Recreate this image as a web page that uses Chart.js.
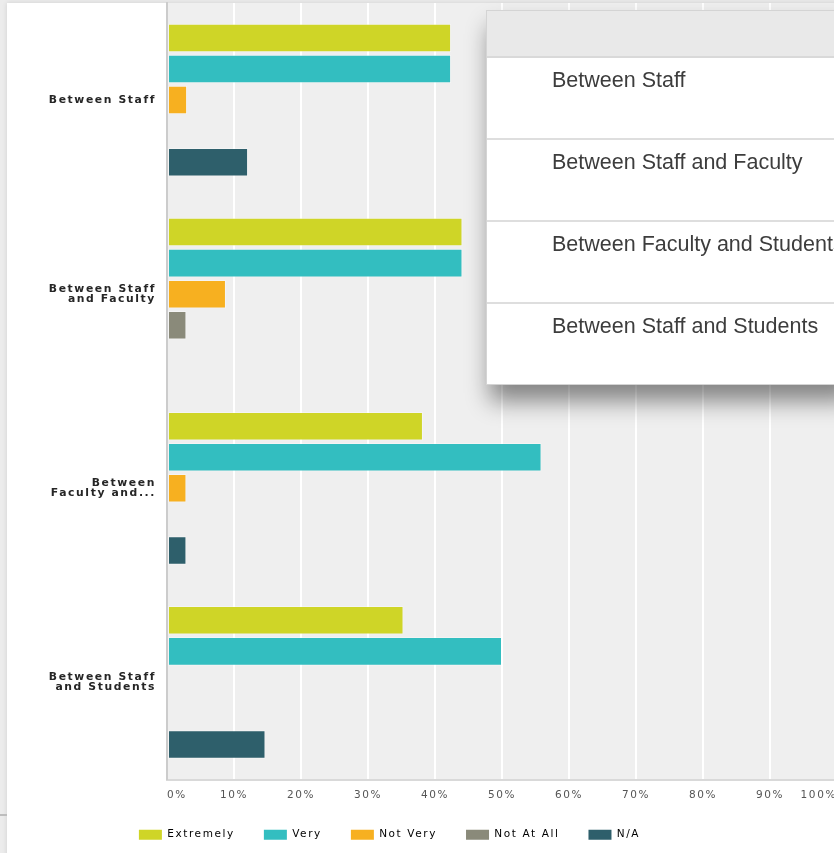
<!DOCTYPE html>
<html>
<head>
<meta charset="utf-8">
<title>Communication ratings</title>
<script src="https://cdn.jsdelivr.net/npm/chart.js@4.4.1/dist/chart.umd.min.js"></script>
<style>
  html, body { margin: 0; padding: 0; width: 834px; height: 853px; overflow: hidden; background: #ececec; }
  .panel { position: absolute; left: 7px; top: 3px; width: 840px; height: 860px; background: #fff; box-shadow: 0 0 5px rgba(0,0,0,0.12); }
  .edge-line { position: absolute; left: 0; top: 814px; width: 7px; height: 2px; background: #bdbdbd; }
  .chart-box { position: absolute; left: -58px; top: 0; width: 895px; height: 853px; }
  .picker { position: absolute; left: 486px; top: 10px; width: 360px; background: #fff; border: 1px solid #d4d4d4;
            box-shadow: 4px 16px 22px rgba(0,0,0,0.45); font-family: 'Liberation Sans', Arial, sans-serif; }
  .picker .head { height: 45px; background: #e9e9e9; border-bottom: 2px solid #d9d9d9; }
  .picker .row { height: 82px; box-sizing: border-box; border-bottom: 2px solid #dedede; padding: 10px 0 0 65px;
                 font-size: 21.5px; color: #3d3d3d; white-space: nowrap; }
  .picker .row:last-child { border-bottom: none; height: 80px; }
</style>
</head>
<body>
<div class="panel"></div>
<div class="edge-line"></div>
<div class="chart-box"><canvas id="ratingChart"></canvas></div>
<div class="picker" id="picker"><div class="head"></div></div>

<script>
// categories, full names and the wrapped axis versions
const categories = ['Between Staff', 'Between Staff and Faculty', 'Between Faculty and Students', 'Between Staff and Students'];
const axisLabels = [['Between Staff'], ['Between Staff', 'and Faculty'], ['Between', 'Faculty and...'], ['Between Staff', 'and Students']];

// answer options
const seriesNames = ['Extremely', 'Very', 'Not Very', 'Not At All', 'N/A'];
const seriesColors = ['#cfd527', '#33bec0', '#f7b020', '#8a8a7a', '#2e5f6b'];

// percent of respondents per category
const extremely = [42.4, 44.1, 38.2, 35.3];
const very = [42.4, 44.1, 55.9, 50.0];
const notVery = [3.0, 8.8, 2.9, 0];
const notAtAll = [0, 2.9, 0, 0];
const notApplicable = [12.1, 0, 2.9, 14.7];

const xMin = 0;
const xMax = 100;
const xStep = 10;

const seriesValues = [extremely, very, notVery, notAtAll, notApplicable];

// dropdown list with the category names
const picker = document.getElementById('picker');
categories.forEach(name => {
    const row = document.createElement('div');
    row.className = 'row';
    row.textContent = name;
    picker.appendChild(row);
});

const SPACING = '1.6px';

const plotBg = {
    id: 'plotBg',
    beforeUpdate(chart) { chart.ctx.letterSpacing = SPACING; },
    beforeDraw(chart) {
        const { ctx, chartArea: a } = chart;
        ctx.letterSpacing = SPACING;
        ctx.save();
        ctx.fillStyle = '#efefef';
        ctx.fillRect(a.left, a.top, a.right - a.left, a.bottom - a.top);
        ctx.restore();
    }
};

new Chart(document.getElementById('ratingChart'), {
    type: 'bar',
    data: {
        labels: axisLabels,
        datasets: seriesNames.map((name, i) => ({
            label: name,
            data: seriesValues[i],
            backgroundColor: seriesColors[i],
            borderColor: 'rgba(255,255,255,0.35)',
            borderWidth: c => (c.raw > 0 ? 1 : 0),
            borderSkipped: false,
            categoryPercentage: 0.8,
            barPercentage: 0.92
        }))
    },
    options: {
        indexAxis: 'y',
        responsive: true,
        maintainAspectRatio: false,
        animation: false,
        layout: { padding: { top: 3, left: 0, right: 0, bottom: 3 } },
        scales: {
            x: {
                min: xMin,
                max: xMax,
                afterFit: s => { s.height = 21; s.paddingLeft = 0; s.paddingRight = 0; },
                grid: { color: '#ffffff', lineWidth: 2, drawTicks: false },
                border: { display: true, color: '#d9d9d9', width: 2 },
                ticks: {
                    stepSize: xStep,
                    align: 'inner',
                    padding: 9,
                    color: '#555555',
                    font: { family: "'DejaVu Sans', sans-serif", size: 10.5 },
                    callback: v => v + '%'
                }
            },
            y: {
                afterFit: s => { s.width = 225; s.paddingTop = 0; s.paddingBottom = 0; },
                grid: { drawOnChartArea: false, drawTicks: false },
                border: { display: true, color: '#cccccc', width: 2 },
                ticks: {
                    padding: 11,
                    color: '#262626',
                    font: { family: "'DejaVu Sans', sans-serif", size: 10.8, weight: 'bold', lineHeight: 0.95 }
                }
            }
        },
        plugins: {
            tooltip: { enabled: false },
            legend: {
                position: 'bottom',
                labels: {
                    boxWidth: 23,
                    boxHeight: 10,
                    padding: 29,
                    color: '#333333',
                    font: { family: "'DejaVu Sans', sans-serif", size: 10.5 },
                    generateLabels: chart => chart.data.datasets.map((d, i) => ({
                        text: d.label,
                        fillStyle: seriesColors[i],
                        strokeStyle: seriesColors[i],
                        lineWidth: 0,
                        datasetIndex: i
                    }))
                }
            }
        }
    },
    plugins: [plotBg]
});
</script>
</body>
</html>
